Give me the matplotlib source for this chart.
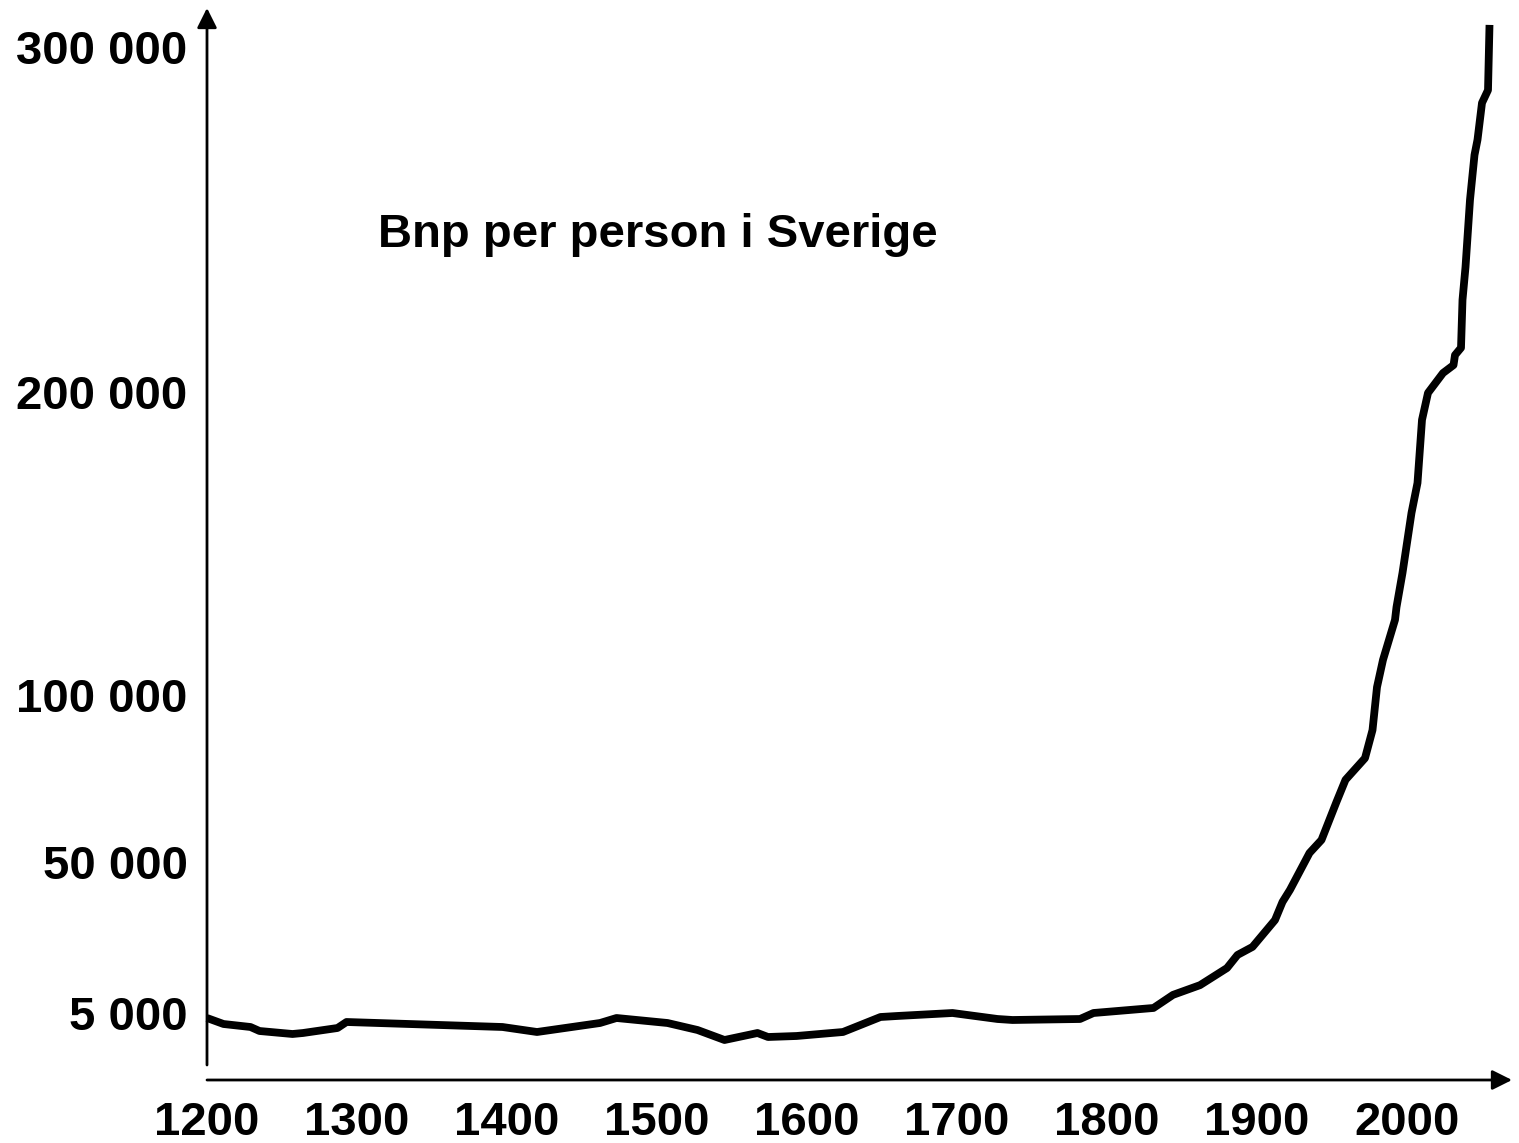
import numpy as np
import matplotlib
matplotlib.use("Agg")
import matplotlib.pyplot as plt

# ---- data ----
years = [1200, 1211, 1229, 1235, 1257, 1264, 1287, 1293, 1397, 1420,
         1462, 1473, 1507, 1527, 1545, 1567, 1574, 1593, 1624, 1649,
         1660, 1697, 1727, 1737, 1782, 1791, 1831, 1844, 1862, 1880,
         1887, 1897, 1912, 1917, 1922, 1935, 1943, 1953, 1959, 1972,
         1977, 1980, 1984, 1992, 1993, 1997, 2000, 2003, 2007, 2010,
         2014, 2024, 2031, 2032, 2036, 2037, 2039, 2042, 2045, 2047,
         2050, 2054, 2055]
gdp = [4500, 3900, 3600, 3200, 2900, 3000, 3500, 4100, 3600, 3100,
       4000, 4500, 4000, 3300, 2300, 3000, 2600, 2700, 3100, 4600,
       4700, 5000, 4400, 4300, 4400, 5000, 6500, 10400, 13300, 18400,
       22300, 24700, 32700, 38100, 41700, 52700, 56600, 68000, 74600, 81100,
       89500, 102600, 111600, 124800, 129000, 140300, 150200, 160100, 170000, 190800,
       199700, 205500, 207800, 210700, 212800, 226700, 236200, 255700, 268700, 273100,
       283800, 287500, 306400]

x_ticks = [1200, 1300, 1400, 1500, 1600, 1700, 1800, 1900, 2000]
y_ticks = [5000, 50000, 100000, 200000, 300000]
y_tick_labels = ["5 000", "50 000", "100 000", "200 000", "300 000"]
title = "Bnp per person i Sverige"

# ---- non-uniform value axis (as drawn in the original) ----
_v = np.array([-100000, 0, 5000, 50000, 100000, 200000, 300000, 1000000], float)
_h = np.array([-983, 17, 67, 218, 385, 688, 1033, 3448], float)

def fwd(v):
    return np.interp(v, _v, _h)

def inv(h):
    return np.interp(h, _h, _v)

W, H = 1519, 1143
fig = plt.figure(figsize=(W / 100, H / 100), dpi=100)
ax = fig.add_axes([207 / W, 63 / H, (W - 207) / W, 1080 / H])
ax.set_yscale("function", functions=(fwd, inv))
ax.set_xlim(1200, 1200 + (W - 207) / 1.5)
ax.set_ylim(inv(0), inv(1080))

ax.plot(years, gdp, color="black", lw=5.6, solid_joinstyle="round",
        solid_capstyle="butt", clip_on=False)

for s in ax.spines.values():
    s.set_visible(False)

font = dict(family=["Liberation Sans", "DejaVu Sans"], weight="bold", size=34)
ax.set_xticks(x_ticks)
ax.set_xticklabels([str(t) for t in x_ticks], **font)
ax.set_yticks(y_ticks)
ax.set_yticklabels(y_tick_labels, **font)
ax.tick_params(axis="both", length=0)
ax.tick_params(axis="y", pad=14)
ax.tick_params(axis="x", pad=15)
ax.minorticks_off()
ax.patch.set_alpha(0)

arrow = dict(arrowstyle="-|>", lw=2.0, color="black", mutation_scale=30,
             shrinkA=0, shrinkB=0)
ax.annotate("", xy=(207, H - 8), xytext=(207, H - 1065),
            xycoords="figure pixels", textcoords="figure pixels", arrowprops=arrow)
ax.annotate("", xy=(1512, H - 1080), xytext=(207, H - 1080),
            xycoords="figure pixels", textcoords="figure pixels", arrowprops=arrow)

fig.text(378 / W, 1 - 247 / H, title, ha="left", va="baseline", **font)

fig.savefig("out.png", dpi=100)
